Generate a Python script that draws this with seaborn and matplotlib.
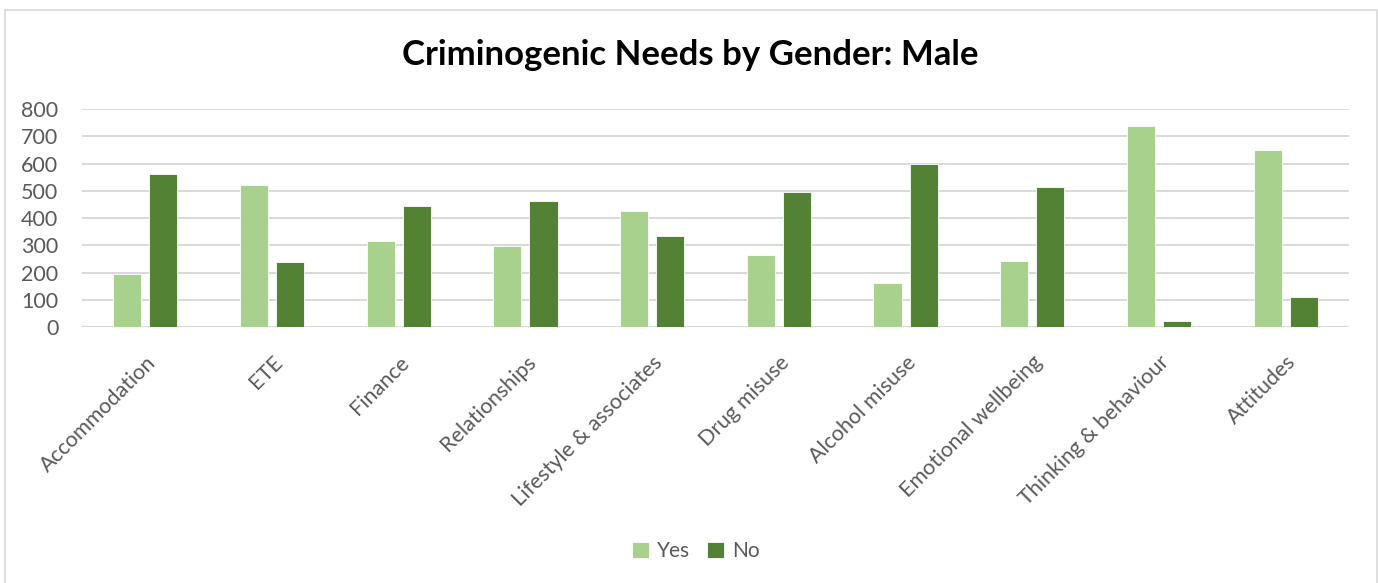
import matplotlib
matplotlib.use("Agg")
import matplotlib.pyplot as plt
from matplotlib.patches import Rectangle
import seaborn as sns
import pandas as pd

categories = ["Accommodation", "ETE", "Finance", "Relationships", "Lifestyle & associates",
              "Drug misuse", "Alcohol misuse", "Emotional wellbeing", "Thinking & behaviour", "Attitudes"]
yes_values = [195, 522, 315, 296, 426, 266, 162, 244, 739, 648]
no_values = [562, 238, 445, 462, 333, 494, 599, 515, 22, 112]
series = ["Yes", "No"]
y_ticks = [0, 100, 200, 300, 400, 500, 600, 700, 800]

df = pd.DataFrame({
    "Need": categories * 2,
    "Response": ["Yes"] * len(categories) + ["No"] * len(categories),
    "Count": yes_values + no_values,
})

sns.set_theme(style="white")
plt.rcParams["font.family"] = ["Lato", "DejaVu Sans"]

fig = plt.figure(figsize=(13.78, 5.83), dpi=100)
ax = fig.add_axes([0.0595, 0.439, 0.9195, 0.374])

palette = {"Yes": "#A9D18E", "No": "#548235"}
sns.barplot(data=df, x="Need", y="Count", hue="Response", hue_order=series,
            order=categories, palette=palette, width=0.57, gap=0.22,
            saturation=1, ax=ax, legend=True, edgecolor="white", linewidth=0.6)

ax.set_ylim(0, 800)
ax.set_xlim(-0.5, len(categories) - 0.5)
ax.set_yticks(y_ticks)
ax.set_yticklabels([str(v) for v in y_ticks], fontsize=15.5, color="#595959")
ax.set_xticks(range(len(categories)))
ax.set_xticklabels(categories, rotation=45, ha="right", rotation_mode="anchor",
                   fontsize=15.5, color="#595959")
ax.tick_params(axis="y", length=0, pad=17)
ax.tick_params(axis="x", length=0, pad=18)
ax.set_xlabel("")
ax.set_ylabel("")
ax.yaxis.grid(True, color="#D9D9D9", linewidth=1.4)
ax.set_axisbelow(True)
for s in ax.spines.values():
    s.set_visible(False)
ax.axhline(0, color="#D9D9D9", linewidth=1.6, zorder=0)

fig.text(0.501, 0.905, "Criminogenic Needs by Gender: Male", ha="center", va="center",
         fontsize=25, fontweight="bold", color="black")

handles, labels = ax.get_legend_handles_labels()
ax.legend_.remove()
fig.legend(handles, labels, loc="center", bbox_to_anchor=(0.505, 0.055), ncol=2,
           frameon=False, fontsize=15, handlelength=0.8, handleheight=0.8,
           handletextpad=0.4, columnspacing=0.8, labelcolor="#595959")

fig.patches.append(Rectangle((5 / 1378, -0.05), 1372 / 1378, 1.05 - 10 / 583,
                             transform=fig.transFigure, fill=False,
                             edgecolor="#D9D9D9", linewidth=1.2))

fig.savefig("out.png", dpi=100, facecolor="white")
